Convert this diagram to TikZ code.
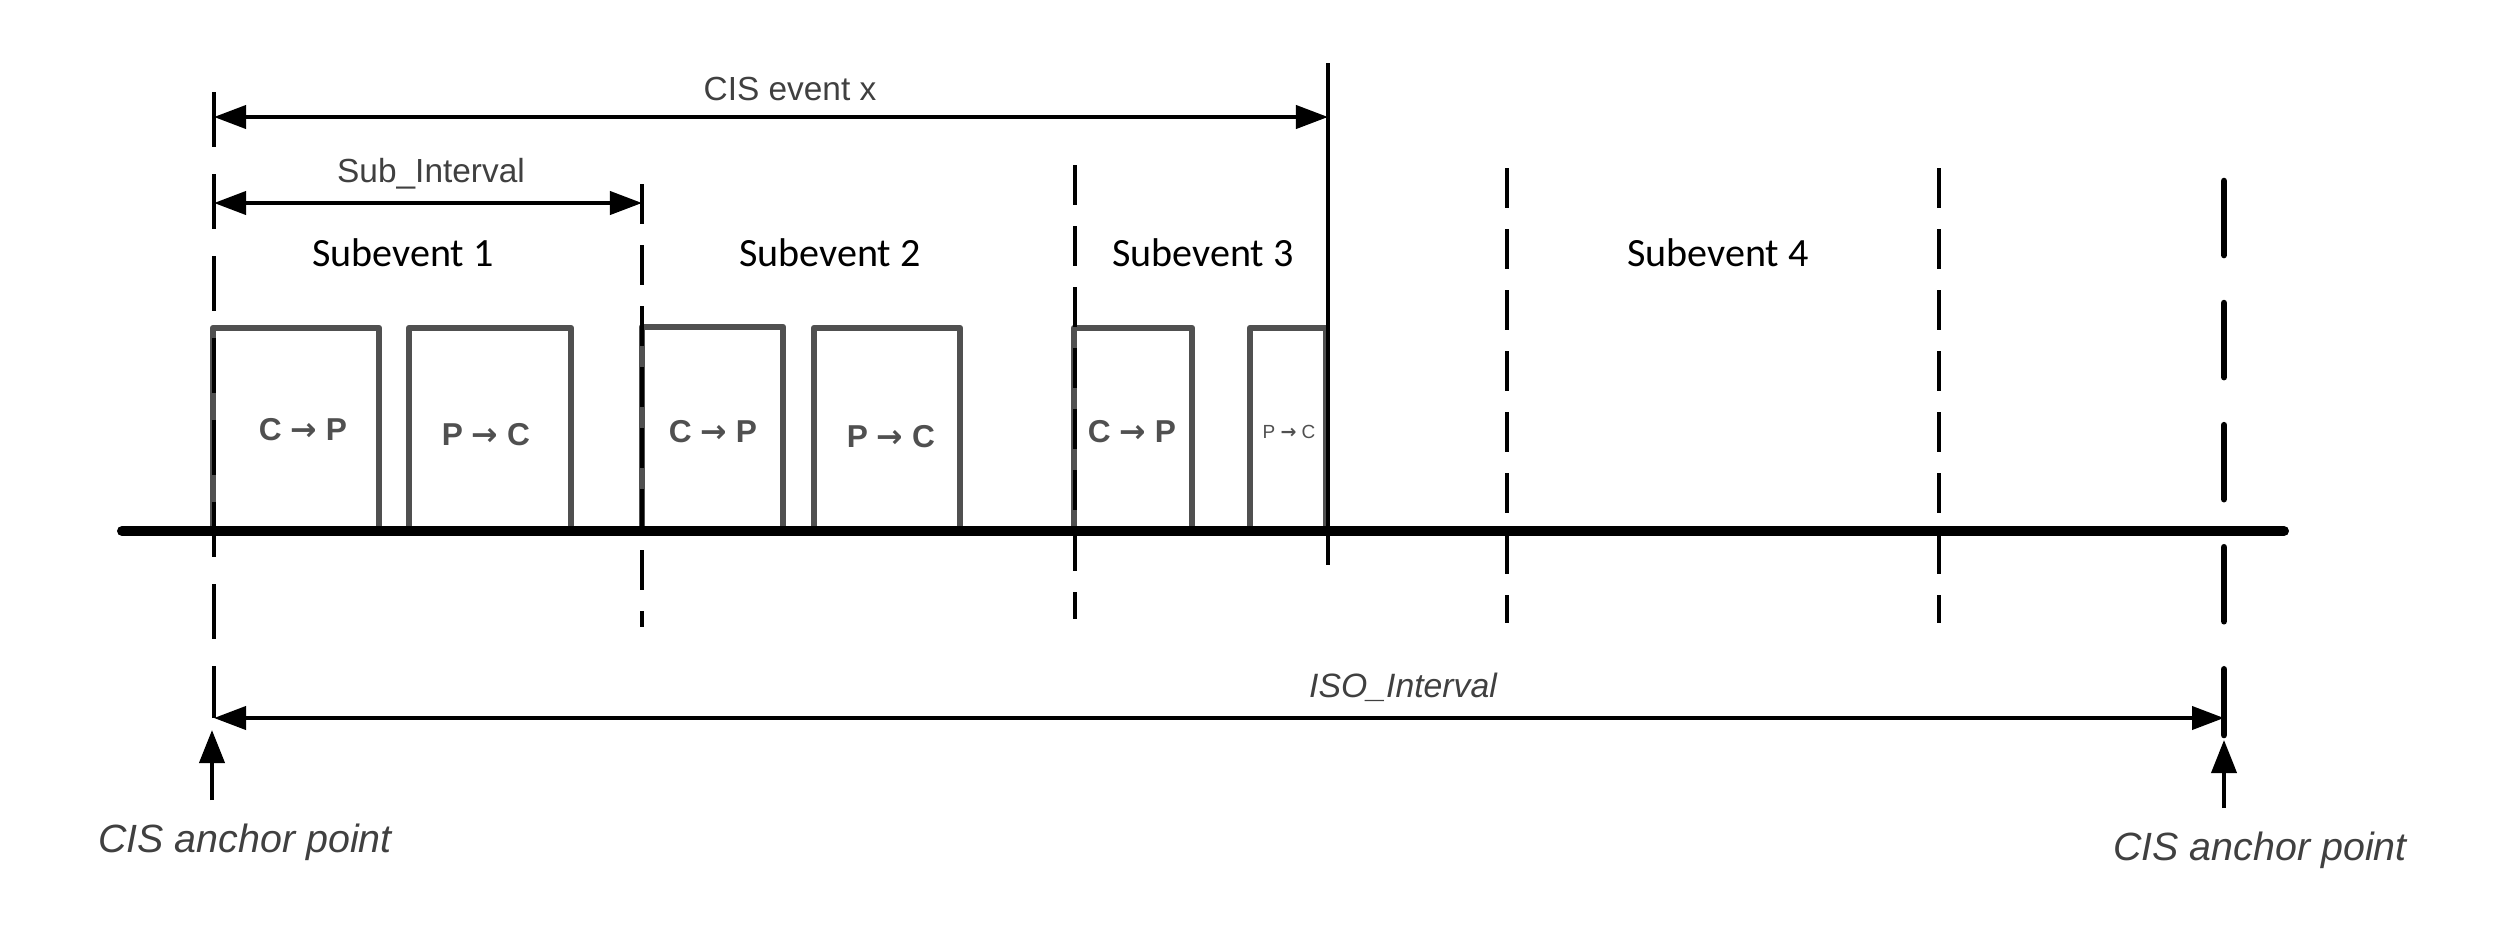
\documentclass[tikz,border=0pt]{standalone}
\usepackage{fontspec}
\usetikzlibrary{arrows.meta}
\newfontfamily\arialf{Liberation Sans}
\newfontfamily\calibrif{Carlito}
\newfontfamily\arrowf{DejaVu Sans}
\newcommand{\rarr}{{\arrowf\bfseries →}}
\definecolor{txtgray}{HTML}{404040}
\definecolor{boxgray}{HTML}{505050}
\begin{document}
\begin{tikzpicture}[x=0.01cm,y=-0.01cm,
  dim/.style={line width=0.04cm, {Triangle[length=0.32cm,width=0.23cm]}-{Triangle[length=0.32cm,width=0.23cm]}},
  uparrow/.style={line width=0.04cm, -{Triangle[length=0.33cm,width=0.25cm]}},
  thinv/.style={line width=0.045cm},
  dashA/.style={thinv, dash pattern=on 0.40cm off 0.21cm},
  dashB/.style={thinv, dash pattern=on 0.55cm off 0.27cm},
  anchorline/.style={line width=0.066cm, line cap=round, dash pattern=on 0.74cm off 0.48cm},
  pkt/.style={draw=boxgray, line width=0.065cm, line join=round},
  pktlabel/.style={font=\arialf\bfseries\fontsize{9}{10}\selectfont, text=boxgray, inner sep=0pt, anchor=base},
  pktsmall/.style={font=\arialf\fontsize{5.4}{6}\selectfont, text=boxgray, inner sep=0pt, anchor=base},
  sublabel/.style={font=\calibrif\fontsize{11.4}{13}\selectfont, inner sep=0pt, anchor=base},
  dimlabel/.style={font=\arialf\fontsize{9.5}{11}\selectfont, text=txtgray, inner sep=0pt, anchor=base},
  isolabel/.style={font=\arialf\itshape\fontsize{9.6}{11}\selectfont, text=txtgray, inner sep=0pt, anchor=base},
  anclabel/.style={font=\arialf\itshape\fontsize{11.2}{13}\selectfont, text=txtgray, inner sep=0pt, anchor=base},
]
\useasboundingbox[fill=white] (0,0) rectangle (2500,930);

% packet boxes (open at the bottom, standing on the timeline)
\draw[pkt] (213,531) |- (379,328) -- (379,531);
\draw[pkt] (409,531) |- (571,328) -- (571,531);
\draw[pkt] (642,531) |- (783,327) -- (783,531);
\draw[pkt] (814,531) |- (960,328) -- (960,531);
\draw[pkt] (1074,531) |- (1192,328) -- (1192,531);
\draw[pkt] (1250,531) |- (1326,328) -- (1326,531);

\node[pktlabel] (b1) at (303,440) {C \rarr{} P};
\node[pktlabel] (b2) at (486,445) {P \rarr{} C};
\node[pktlabel] (b3) at (713,442) {C \rarr{} P};
\node[pktlabel] (b4) at (891,447) {P \rarr{} C};
\node[pktlabel] (b5) at (1132,442) {C \rarr{} P};
\node[pktsmall] (b6) at (1289,438) {P \rarr{} C};

% vertical markers
\coordinate (l0t) at (214,92);   \coordinate (l0b) at (214,718);
\coordinate (l1t) at (642,184);  \coordinate (l1b) at (642,627);
\coordinate (l2t) at (1075,165); \coordinate (l2b) at (1075,619);
\coordinate (l3t) at (1328,63);  \coordinate (l3b) at (1328,565);
\coordinate (l4t) at (1507,168); \coordinate (l4b) at (1507,623);
\coordinate (l5t) at (1939,168); \coordinate (l5b) at (1939,623);
\coordinate (l6t) at (2224,181); \coordinate (l6b) at (2224,735);

\draw[dashB] (l0t) -- (l0b);
\draw[dashA] (l1t) -- (l1b);
\draw[dashA] (l2t) -- (l2b);
\draw[thinv] (l3t) -- (l3b);
\draw[dashA] (l4t) -- (l4b);
\draw[dashA] (l5t) -- (l5b);
\draw[anchorline] (l6t) -- (l6b);

% timeline
\coordinate (tlA) at (122,531);
\coordinate (tlB) at (2284,531);
\draw[line width=0.1cm, line cap=round] (tlA) -- (tlB);

% dimension arrows
\coordinate (ceA) at (214,117);  \coordinate (ceB) at (1328,117);
\coordinate (siA) at (214,203);  \coordinate (siB) at (642,203);
\coordinate (isA) at (214,718);  \coordinate (isB) at (2224,718);
\draw[dim] (ceA) -- (ceB);
\draw[dim] (siA) -- (siB);
\draw[dim] (isA) -- (isB);

\node[dimlabel] (cislbl) at (790,100) {CIS event x};
\node[dimlabel] (sublbl) at (431,182) {Sub\_Interval};
\node[isolabel] (isolbl) at (1403,697) {ISO\_Interval};

% subevent labels
\node[sublabel] (s1) at (403,266) {Subevent 1};
\node[sublabel] (s2) at (830,266) {Subevent 2};
\node[sublabel] (s3) at (1203,266) {Subevent 3};
\node[sublabel] (s4) at (1718,266) {Subevent 4};

% anchor points
\coordinate (a1s) at (212,800); \coordinate (a1e) at (212,730);
\coordinate (a2s) at (2224,808); \coordinate (a2e) at (2224,740);
\draw[uparrow] (a1s) -- (a1e);
\draw[uparrow] (a2s) -- (a2e);
\node[anclabel] (anc1) at (245,852) {CIS anchor point};
\node[anclabel] (anc2) at (2260,860) {CIS anchor point};
\end{tikzpicture}
\end{document}
